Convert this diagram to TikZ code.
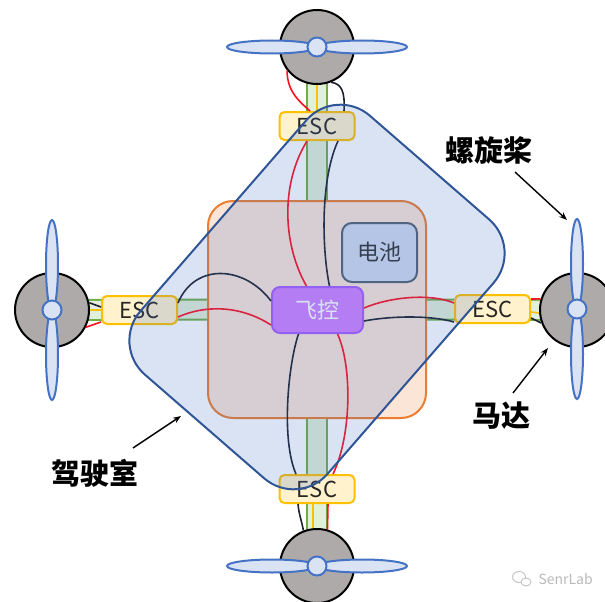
\documentclass[tikz,border=0pt]{standalone}
\usepackage{fontspec}
\setmainfont{Noto Sans CJK SC}
\usetikzlibrary{arrows.meta}

\definecolor{motorgray}{HTML}{AEAAAA}
\definecolor{propfill}{HTML}{DAE3F3}
\definecolor{propline}{HTML}{4472C4}
\definecolor{escfill}{HTML}{FFF2CC}
\definecolor{escline}{HTML}{FFC000}
\definecolor{cablegreen}{HTML}{70AD47}
\definecolor{cablefill}{HTML}{E2F0D9}
\definecolor{bayfill}{HTML}{FBE5D6}
\definecolor{bayline}{HTML}{ED7D31}
\definecolor{cabfill}{HTML}{4472C4}
\definecolor{cabline}{HTML}{2F5597}
\definecolor{fcfill}{HTML}{D080FF}
\definecolor{fcline}{HTML}{A95CFF}
\definecolor{batfill}{HTML}{D0DAEE}
\definecolor{batline}{HTML}{536171}
\definecolor{wirered}{HTML}{FF1020}
\definecolor{wireblack}{HTML}{1E2230}

\tikzset{
  motor/.style={circle, draw=black, fill=motorgray, line width=2pt, minimum size=74pt, inner sep=0pt},
  blade/.style={draw=propline, fill=propfill, line width=2pt},
  hub/.style={circle, draw=propline, fill=propfill, line width=2pt, minimum size=19pt, inner sep=0pt},
  esc/.style={draw=escline, fill=escfill, line width=2pt, rounded corners=5pt, minimum width=75pt, minimum height=28pt, inner sep=0pt, text=black!85, font=\fontsize{22}{22}\selectfont},
  cable/.style={draw=cablegreen, line width=2pt, double=cablefill, double distance=18pt},
  sig/.style={draw=escline, line width=1.6pt},
  redw/.style={draw=wirered, line width=1.6pt},
  blkw/.style={draw=wireblack, line width=1.6pt},
  tag/.style={font=\fontsize{29}{29}\selectfont\bfseries},
  pointer/.style={-{Stealth[length=8pt,width=6pt]}, line width=1.4pt},
}

\begin{document}
\begin{tikzpicture}[x=1pt,y=-1pt]
\useasboundingbox (0,0) rectangle (605,602);

\node[draw=bayline, fill=bayfill, line width=2pt, rounded corners=25pt, minimum width=218pt, minimum height=217pt] (bay) at (317,309.5) {};

\coordinate (ctop) at (317,47);
\coordinate (cbot) at (317,566);
\coordinate (cleft) at (52,310);
\coordinate (cright) at (577,310);

\draw[cable] (ctop) -- (bay.north);
\draw[cable] (bay.south) -- (cbot);
\draw[cable] (cleft) -- (bay.west);
\draw[cable] (bay.east) -- (cright);

\node[motor] (mtop) at (ctop) {};
\node[motor] (mbot) at (cbot) {};
\node[motor] (mleft) at (cleft) {};
\node[motor] (mright) at (cright) {};

\filldraw[blade] (272,47) ellipse [x radius=45pt, y radius=6.5pt];
\filldraw[blade] (362,47) ellipse [x radius=45pt, y radius=6.5pt];
\filldraw[blade] (272,566) ellipse [x radius=45pt, y radius=6.5pt];
\filldraw[blade] (362,566) ellipse [x radius=45pt, y radius=6.5pt];
\filldraw[blade] (52,265) ellipse [x radius=6pt, y radius=45pt];
\filldraw[blade] (52,355) ellipse [x radius=6pt, y radius=45pt];
\filldraw[blade] (577,264) ellipse [x radius=6pt, y radius=45pt];
\filldraw[blade] (577,354) ellipse [x radius=6pt, y radius=45pt];
\node[hub] (htop) at (317,47) {};
\node[hub] (hbot) at (317,566) {};
\node[hub] (hleft) at (52,310) {};
\node[hub] (hright) at (577,309) {};

\node[esc] (esctop) at (317,126) {ESC};
\node[esc] (escbot) at (317,489) {ESC};
\node[esc] (escleft) at (139.5,310) {ESC};
\node[esc] (escright) at (492.5,309) {ESC};

\node[draw=fcline, fill=fcfill, line width=2pt, rounded corners=8pt, minimum width=91pt, minimum height=46pt, text=white, font=\fontsize{22}{22}\selectfont] (fc) at (317.5,310) {飞控};
\node[draw=batline, fill=batfill, line width=2pt, rounded corners=10pt, minimum width=75pt, minimum height=59pt, text=black!80, font=\fontsize{22}{22}\selectfont] (bat) at (379.5,252.5) {电池};

\draw[redw] ([xshift=-11pt]fc.north) .. controls (283,245) and (280,185) .. ([xshift=-10pt]esctop.south);
\draw[blkw] ([xshift=12pt]fc.north) .. controls (322,250) and (320,180) .. ([xshift=21pt]esctop.south);
\draw[redw] (mtop.218) .. controls (287,92) and (300,102) .. ([xshift=-7pt]esctop.north);
\draw[blkw] (mtop.-68) .. controls (342,84) and (345,92) .. ([xshift=27pt]esctop.north);
\draw[sig] (mtop.south) -- (esctop.north);

\draw[blkw] ([xshift=-19pt]fc.south) .. controls (288,365) and (281,440) .. ([xshift=-21pt]escbot.north);
\draw[redw] ([xshift=20pt]fc.south) .. controls (352,365) and (352,435) .. ([xshift=16pt]escbot.north);
\draw[blkw] ([xshift=-19pt]escbot.south) .. controls (299,515) and (302,522) .. (mbot.111);
\draw[redw] ([xshift=11pt]escbot.south) -- (mbot.74);
\draw[sig] ([xshift=-4pt]escbot.south) -- ([xshift=-4pt]mbot.north);

\draw[blkw] ([yshift=7pt]escleft.east) .. controls (195,262) and (245,266) .. ([yshift=9pt]fc.west);
\draw[redw] ([yshift=-7pt]escleft.east) .. controls (205,305) and (240,305) .. ([yshift=-15pt]fc.west);
\draw[blkw] (mleft.11) -- ([yshift=3pt]escleft.west);
\draw[redw] (mleft.-27) -- ([yshift=-12pt]escleft.west);
\draw[sig] (mleft.east) -- (escleft.west);

\draw[redw] ([yshift=2pt]fc.east) .. controls (390,297) and (430,293) .. ([yshift=6pt]escright.west);
\draw[blkw] ([yshift=-11pt]fc.east) .. controls (390,316) and (430,315) .. ([yshift=-13pt]escright.west);
\draw[redw] ([yshift=10pt]escright.east) -- (mright.163);
\draw[blkw] ([yshift=-9pt]escright.east) -- (mright.200);
\draw[sig] ([yshift=-3pt]escright.east) -- ([yshift=-3pt]mright.west);

\node[draw=cabline, line width=2pt, fill=cabfill, fill opacity=0.2, rounded corners=45pt, minimum width=343pt, minimum height=248pt, rotate=49] (cab) at (317,297) {};

\node[tag] (lblprop) at (489,150) {螺旋桨};
\node[tag] (lblmotor) at (501,416) {马达};
\node[tag] (lblcab) at (95,473) {驾驶室};
\coordinate (propfrom) at (515,172);
\coordinate (propto) at (567,220);
\coordinate (motorfrom) at (513,393);
\coordinate (motorto) at (548,348);
\coordinate (cabfrom) at (133,448);
\coordinate (cabto) at (181,416);
\draw[pointer] (propfrom) -- (propto);
\draw[pointer] (motorfrom) -- (motorto);
\draw[pointer] (cabfrom) -- (cabto);

\draw[gray!45, line width=1pt] (519,577) ellipse [x radius=6.5pt, y radius=5.5pt];
\draw[gray!45, line width=1pt, fill=white] (526,582) ellipse [x radius=5pt, y radius=4pt];
\node[text=gray!55, font=\fontsize{14}{14}\selectfont, anchor=west] (mark) at (535,579) {SenrLab};
\end{tikzpicture}
\end{document}
